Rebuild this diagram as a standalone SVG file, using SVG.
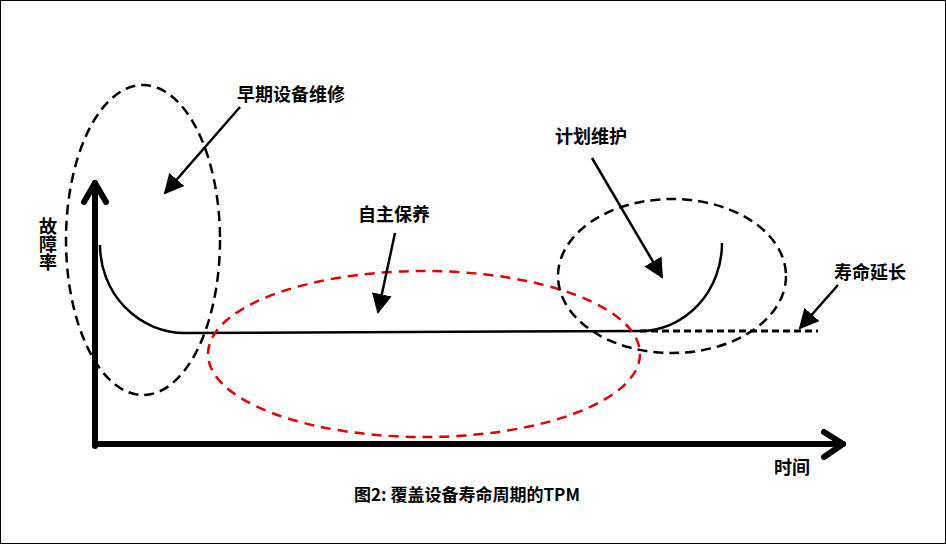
<svg xmlns="http://www.w3.org/2000/svg" width="946" height="544" viewBox="0 0 946 544">
<style>
text{font-family:"Noto Sans CJK SC","Noto Sans",sans-serif;font-weight:bold;fill:#000;}
.lbl{font-size:18px;}
.dash{fill:none;stroke:#000;stroke-width:2.5;stroke-dasharray:10 6;}
.red{fill:none;stroke:#e00000;stroke-width:2.5;stroke-dasharray:10 7;}
.ptr{stroke:#000;stroke-width:2.5;fill:none;}
.axis{stroke:#000;stroke-width:6;fill:none;stroke-linecap:round;stroke-linejoin:round;}
</style>
<defs>
<marker id="ah2" viewBox="0 0 20 20" refX="18" refY="10" markerWidth="20" markerHeight="20" markerUnits="userSpaceOnUse" orient="auto">
<path d="M0,0 L20,10 L0,20 z" fill="#000"/>
</marker>
</defs>
<rect x="0.5" y="0.5" width="945" height="543" fill="#fff" stroke="#000" stroke-width="1"/>
<g id="axes">
<path class="axis" d="M95,446 L95,183"/>
<path class="axis" d="M84,202 L95,183 L106,202"/>
<path class="axis" d="M95,444 L843,444"/>
<path class="axis" d="M824,432 L843,444 L824,457"/>
</g>
<g id="curve">
<path d="M100,245 A85,88 0 0 0 185,333 L640,331 A82,88 0 0 0 722,243" fill="none" stroke="#000" stroke-width="2.5"/>
<path d="M640,331 L818,331" fill="none" stroke="#000" stroke-width="3" stroke-dasharray="7 4"/>
</g>
<g id="early-ellipse"><ellipse class="dash" cx="143" cy="240" rx="77" ry="155"/></g>
<g id="auto-ellipse"><ellipse class="red" cx="424" cy="354" rx="216" ry="83"/></g>
<g id="plan-ellipse"><ellipse class="dash" cx="672" cy="276" rx="114" ry="77"/></g>
<g id="connectors">
<line class="ptr" x1="240" y1="107" x2="165" y2="193" marker-end="url(#ah2)"/>
<line class="ptr" x1="395" y1="233" x2="378" y2="312" marker-end="url(#ah2)"/>
<line class="ptr" x1="592" y1="158" x2="662" y2="277" marker-end="url(#ah2)"/>
<line class="ptr" x1="838" y1="285" x2="800" y2="328" marker-end="url(#ah2)"/>
</g>
<g id="labels">
<text class="lbl" x="291" y="101" text-anchor="middle">早期设备维修</text>
<text class="lbl" x="394" y="221" text-anchor="middle">自主保养</text>
<text class="lbl" x="591" y="143" text-anchor="middle">计划维护</text>
<text class="lbl" x="870" y="279" text-anchor="middle">寿命延长</text>
<text class="lbl" x="792" y="474" text-anchor="middle">时间</text>
<text class="lbl" x="48" y="217" style="writing-mode:vertical-rl">故障率</text>
<text x="467" y="501" text-anchor="middle" font-size="17">图2: 覆盖设备寿命周期的TPM</text>
</g>
</svg>
